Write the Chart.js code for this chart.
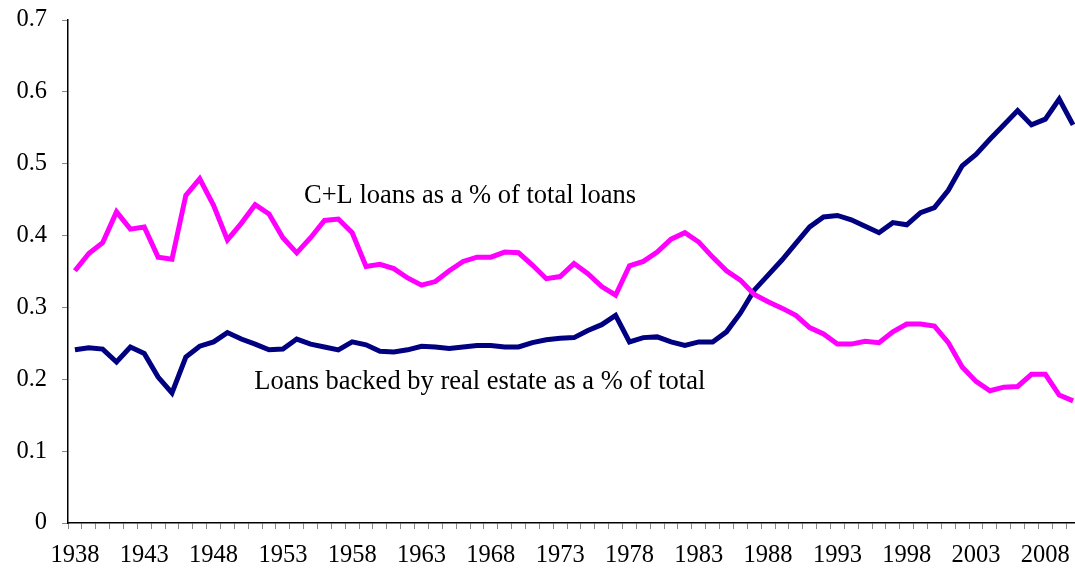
<!DOCTYPE html>
<html>
<head>
<meta charset="utf-8">
<script src="https://cdn.jsdelivr.net/npm/chart.js@4/dist/chart.umd.min.js"></script>
<style>
  html, body { margin: 0; padding: 0; background: #fff; overflow: hidden; }
  #wrap { width: 1080px; height: 569px; }
</style>
</head>
<body>
<div id="wrap"><canvas id="myChart"></canvas></div>
<script>
// years 1938 - 2010
const years = [];
for (let y = 1938; y <= 2010; y++) years.push(String(y));

// commercial & industrial loans share
const clShare = [
  0.351, 0.375, 0.390, 0.433, 0.409, 0.412, 0.370, 0.367, 0.456, 0.479,
  0.442, 0.394, 0.417, 0.443, 0.430, 0.397, 0.376, 0.397, 0.421, 0.423,
  0.404, 0.357, 0.360, 0.354, 0.341, 0.331, 0.336, 0.351, 0.364, 0.370,
  0.370, 0.377, 0.376, 0.359, 0.340, 0.343, 0.361, 0.347, 0.329, 0.317,
  0.358, 0.364, 0.377, 0.395, 0.404, 0.391, 0.370, 0.351, 0.338, 0.318,
  0.308, 0.299, 0.289, 0.272, 0.263, 0.249, 0.249, 0.253, 0.251, 0.266,
  0.277, 0.277, 0.274, 0.251, 0.217, 0.197, 0.184, 0.189, 0.190, 0.207,
  0.207, 0.178, 0.170
];

// real estate backed loans share
const reShare = [
  0.241, 0.244, 0.242, 0.224, 0.245, 0.236, 0.203, 0.181, 0.231, 0.246,
  0.252, 0.265, 0.256, 0.249, 0.241, 0.242, 0.256, 0.249, 0.245, 0.241,
  0.252, 0.248, 0.239, 0.238, 0.241, 0.246, 0.245, 0.243, 0.245, 0.247,
  0.247, 0.245, 0.245, 0.251, 0.255, 0.257, 0.258, 0.268, 0.276, 0.289,
  0.252, 0.258, 0.259, 0.252, 0.247, 0.252, 0.252, 0.266, 0.292, 0.324,
  0.345, 0.366, 0.389, 0.412, 0.426, 0.428, 0.422, 0.413, 0.404, 0.418,
  0.415, 0.432, 0.439, 0.463, 0.497, 0.513, 0.534, 0.554, 0.574, 0.554,
  0.562, 0.590, 0.554
];

const yTicks = [0, 0.1, 0.2, 0.3, 0.4, 0.5, 0.6, 0.7];

// text labels placed in data space: [text, year index, value]
const notes = [
  ['C+L loans as a % of total loans', 28.5, 0.455],
  ['Loans backed by real estate as a % of total', 29.2, 0.196]
];

const serif = '"Liberation Serif", "Times New Roman", serif';

const notePlugin = {
  id: 'notes',
  afterDatasetsDraw(chart) {
    const c = chart.ctx;
    const xs = chart.scales.x, ys = chart.scales.y;
    c.save();
    c.font = '26.5px ' + serif;
    c.fillStyle = '#000';
    c.textAlign = 'center';
    c.textBaseline = 'middle';
    notes.forEach(n => {
      c.fillText(n[0], xs.getPixelForValue(n[1]), ys.getPixelForValue(n[2]));
    });
    c.restore();
  }
};

var ctx = document.getElementById('myChart');

var myChart = new Chart(ctx, {
  type: 'line',
  data: {
    labels: years,
    datasets: [{
      label: 'C+L loans',
      data: clShare,
      borderColor: '#ff00ff',
      borderWidth: 5,
      pointRadius: 0,
      tension: 0
    }, {
      label: 'Real estate loans',
      data: reShare,
      borderColor: '#000080',
      borderWidth: 5,
      pointRadius: 0,
      tension: 0
    }]
  },
  options: {
    responsive: true,
    maintainAspectRatio: false,
    animation: false,
    layout: { padding: { top: 20, right: 0, bottom: 0, left: 0 } },
    scales: {
      x: {
        offset: true,
        grid: { offset: true, drawOnChartArea: false, tickLength: 6, color: '#888' },
        border: { color: '#000', width: 1.5 },
        ticks: {
          autoSkip: false,
          maxRotation: 0,
          padding: 12,
          color: '#000',
          font: { family: serif, size: 24.5 },
          callback: function (v, i) { return i % 5 === 0 ? years[i] : ''; }
        },
        afterFit: function (s) { s.height = 46; s.paddingLeft = 0; s.paddingRight = 0; }
      },
      y: {
        min: 0,
        max: 0.7,
        afterBuildTicks: function (s) { s.ticks = yTicks.map(v => ({ value: v })); },
        grid: { drawOnChartArea: false, tickLength: 6, color: '#888' },
        border: { color: '#000', width: 1.5 },
        ticks: {
          padding: 15,
          color: '#000',
          font: { family: serif, size: 24.5 },
          callback: function (v) { return v === 0 ? '0' : v.toFixed(1); }
        },
        afterFit: function (s) { s.width = 68; s.paddingTop = 0; s.paddingBottom = 0; }
      }
    },
    plugins: {
      legend: { display: false },
      tooltip: { enabled: false }
    }
  },
  plugins: [notePlugin]
});
</script>
</body>
</html>
